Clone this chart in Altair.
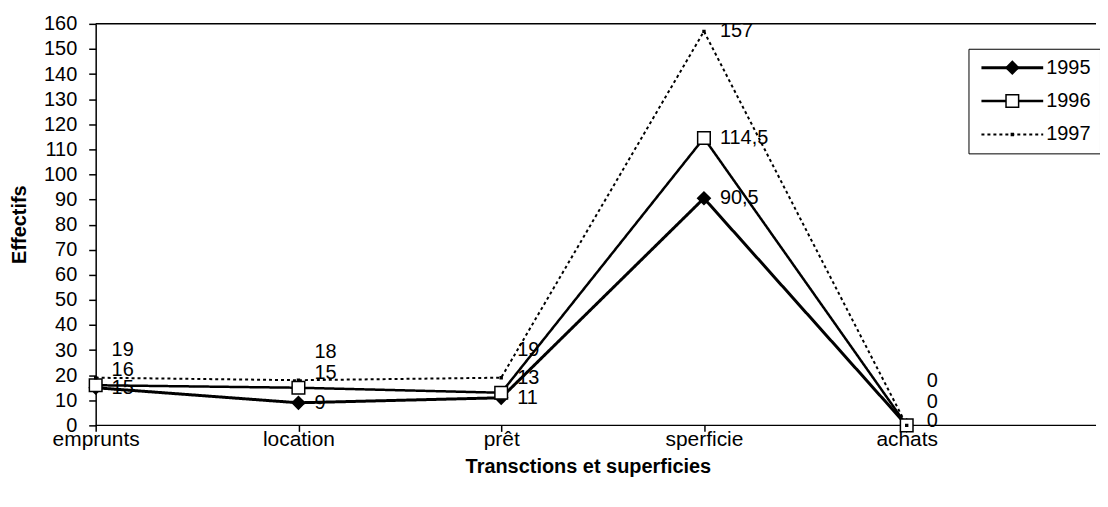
import altair as alt
import pandas as pd

categories = ["emprunts", "location", "prêt", "sperficie", "achats"]
years = ["1995", "1996", "1997"]
values_1995 = [15, 9, 11, 90.5, 0]
values_1996 = [16, 15, 13, 114.5, 0]
values_1997 = [19, 18, 19, 157, 0]
y_ticks = list(range(0, 161, 10))
frame_lines = [0, 160]


def fmt(v):
    return ("%g" % v).replace(".", ",")


rows = []
for yr, vals in zip(years, [values_1995, values_1996, values_1997]):
    for c, v in zip(categories, vals):
        rows.append({"cat": c, "series": yr, "marker": yr, "value": v, "label": fmt(v)})
df = pd.DataFrame(rows)

FONT = "Liberation Sans"

y_scale = alt.Scale(domain=[0, 160], nice=False, zero=True)

x_enc = alt.X(
    "cat:N",
    sort=categories,
    scale=alt.Scale(type="point", domain=categories, range=[0, 814], padding=0),
    axis=alt.Axis(
        title="Transctions et superficies",
        labelAngle=0,
        labelFontSize=21,
        labelColor="black",
        labelBaseline="middle",
        labelPadding=8,
        titleFontSize=20,
        titleFontWeight="bold",
        titleColor="black",
        titleX=494,
        titleY=41,
        titleBaseline="middle",
        tickSize=6,
        tickColor="black",
        tickWidth=1.5,
        domain=False,
        grid=False,
    ),
)
y_axis = alt.Axis(
    values=y_ticks,
    labelOverlap=False,
    title="Effectifs",
    titleFontSize=20,
    titleFontWeight="bold",
    titleColor="black",
    titleX=-76,
    titleY=201,
    titleBaseline="middle",
    labelFontSize=20,
    labelColor="black",
    labelPadding=12,
    tickSize=7,
    tickColor="black",
    tickWidth=1.5,
    domainColor="black",
    domainWidth=1.5,
    grid=False,
)
y_enc = alt.Y("value:Q", scale=y_scale, axis=y_axis)

legend_common = dict(
    orient="none",
    legendX=876,
    legendY=25,
    title=None,
    padding=9,
    rowPadding=13.5,
    symbolSize=160,
    symbolOffset=25,
    labelOffset=24,
    labelFontSize=20,
    labelFont=FONT,
)

base = alt.Chart(df)

frame = alt.Chart(pd.DataFrame({"value": frame_lines})).mark_rule(
    color="black", strokeWidth=1.5
).encode(y=y_enc)

lines = base.mark_line(color="black").encode(
    x=x_enc,
    y=y_enc,
    strokeDash=alt.StrokeDash(
        "series:N",
        scale=alt.Scale(domain=years, range=[[1, 0], [1, 0], [3, 3]]),
        legend=alt.Legend(
            symbolType="M-4.9,0H4.9",
            symbolStrokeColor="black",
            symbolStrokeWidth=2,
            labelColor="black",
            strokeColor="black",
            fillColor="white",
            zindex=1,
            **legend_common,
        ),
    ),
    strokeWidth=alt.StrokeWidth(
        "series:O",
        scale=alt.Scale(domain=years, range=[3, 2, 1.5]),
        legend=None,
    ),
)

marker_legend = alt.Legend(
    symbolStrokeWidth=1.5,
    labelOpacity=0,
    zindex=2,
    **legend_common,
)

points = base.mark_point(stroke="black", strokeWidth=1.5, opacity=1, size=160).encode(
    x=x_enc,
    y=y_enc,
    stroke=alt.value("black"),
    shape=alt.Shape(
        "marker:N",
        scale=alt.Scale(range=["diamond", "square", "M-0.15,-0.15h0.3v0.3h-0.3Z"]),
        legend=marker_legend,
    ),
    fill=alt.Fill(
        "marker:N",
        scale=alt.Scale(range=["black", "white", "black"]),
        legend=marker_legend,
    ),
)


def labels(filter_expr, dy, dx=16):
    return base.transform_filter(filter_expr).mark_text(
        align="left", baseline="middle", dx=dx, dy=dy, fontSize=20, color="black", font=FONT
    ).encode(x=x_enc, y=y_enc, text="label:N")


t_peak = labels("datum.value >= 50", 0)
t95 = labels("datum.series == '1995' && datum.value > 0 && datum.value < 50", 0)
t96 = labels("datum.series == '1996' && datum.value > 0 && datum.value < 50", -15)
t97 = labels("datum.series == '1997' && datum.value > 0 && datum.value < 50", -28)
z95 = labels("datum.series == '1995' && datum.value == 0", -4, 20)
z96 = labels("datum.series == '1996' && datum.value == 0", -23, 20)
z97 = labels("datum.series == '1997' && datum.value == 0", -45, 20)

chart = (
    alt.layer(frame, lines, points, t_peak, t95, t96, t97, z95, z96, z97)
    .properties(
        width=1004,
        height=403,
        autosize=alt.AutoSizeParams(type="none"),
        padding={"left": 88, "top": 15, "right": 4, "bottom": 76},
        background="white",
    )
    .configure(font=FONT)
    .configure_view(stroke=None)
)

chart.save("out.html", embed_options={"renderer": "svg", "actions": False})
